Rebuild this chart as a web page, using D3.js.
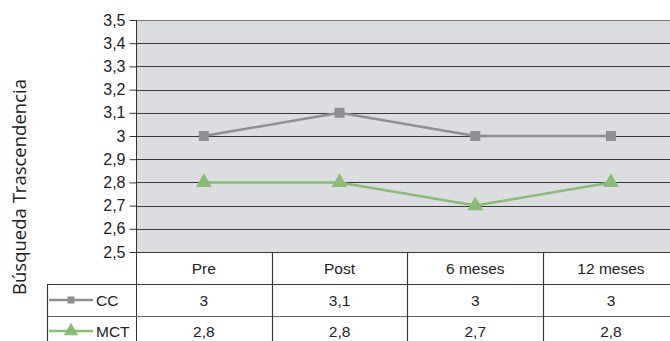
<!DOCTYPE html>
<html><head><meta charset="utf-8">
<script src="https://cdn.jsdelivr.net/npm/d3@7"></script>
<style>body{margin:0;background:#fff}svg{display:block}</style>
</head><body>
<svg id="c" width="670" height="341"></svg>
<script>
const categories = ["Pre", "Post", "6 meses", "12 meses"];
const seriesNames = ["CC", "MCT"];
const ccValues = [3, 3.1, 3, 3];
const mctValues = [2.8, 2.8, 2.7, 2.8];
const yTicks = [2.5, 2.6, 2.7, 2.8, 2.9, 3, 3.1, 3.2, 3.3, 3.4, 3.5];
const yTitle = "Búsqueda Trascendencia";

(function () {
const svg = d3.select("#c");
const pLeft = 136, colW = 135.7, pTop = 20, pBottom = 252;
const pRight = pLeft + colW * categories.length;
const rowTops = [252, 284, 316, 348];
const tableLeft = 47;

const x = d3.scaleBand().domain(categories).range([pLeft, pRight]);
const y = d3.scaleLinear().domain([2.5, 3.5]).range([pBottom, pTop]);
const fmt = v => String(v).replace(".", ",");

svg.append("rect").attr("x", pLeft).attr("y", pTop).attr("width", pRight - pLeft).attr("height", pBottom - pTop).attr("fill", "#dcdde0");

svg.append("g").selectAll("line").data(yTicks).join("line")
  .attr("x1", pLeft).attr("x2", pRight)
  .attr("y1", d => Math.round(y(d)) + 0.5).attr("y2", d => Math.round(y(d)) + 0.5)
  .attr("stroke", d => d === 3.5 ? "#7a7a7a" : "#3a3a3a").attr("stroke-width", 1.2);

const yAxis = d3.axisLeft(y).tickValues(yTicks).tickFormat(fmt).tickSize(7).tickPadding(4);
const ga = svg.append("g").attr("transform", `translate(${pLeft + 0.5},0)`).call(yAxis);
ga.select(".domain").remove();
ga.selectAll(".tick line").attr("stroke", "#333");
ga.selectAll(".tick text").attr("font-family", "Liberation Sans, Arial, sans-serif").attr("font-size", 16).attr("fill", "#222");
svg.append("line").attr("x1", pLeft + 0.5).attr("x2", pLeft + 0.5).attr("y1", pTop).attr("y2", 341).attr("stroke", "#333");

svg.append("text").attr("transform", `translate(26,${187}) rotate(-90)`)
  .attr("text-anchor", "middle").attr("font-family", "Open Sans, sans-serif").attr("font-size", 18.5).attr("fill", "#222")
  .text(yTitle);

const tl = svg.append("g").attr("stroke", "#3a3a3a").attr("stroke-width", 1.2);
tl.append("line").attr("x1", tableLeft).attr("x2", pRight).attr("y1", rowTops[1] + 0.5).attr("y2", rowTops[1] + 0.5);
tl.append("line").attr("x1", tableLeft).attr("x2", pRight).attr("y1", rowTops[2] + 0.5).attr("y2", rowTops[2] + 0.5).attr("stroke", "#666");
tl.append("line").attr("x1", tableLeft + 0.5).attr("x2", tableLeft + 0.5).attr("y1", rowTops[1]).attr("y2", 341);
tl.selectAll(".v").data(categories.slice(1).concat(["end"])).join("line")
  .attr("x1", (d, i) => Math.round(pLeft + colW * (i + 1)) + 0.5)
  .attr("x2", (d, i) => Math.round(pLeft + colW * (i + 1)) + 0.5)
  .attr("y1", pBottom).attr("y2", 341);

const tf = "Liberation Sans, Arial, sans-serif";
const fs = 15.5;
svg.append("g").selectAll("text").data(categories).join("text")
  .attr("x", d => x(d) + x.bandwidth() / 2).attr("y", (rowTops[0] + rowTops[1]) / 2 + 5.5)
  .attr("text-anchor", "middle").attr("font-family", tf).attr("font-size", fs).attr("fill", "#222").text(d => d);

const series = [
  {name: seriesNames[0], values: ccValues, color: "#8f8f92", marker: "square"},
  {name: seriesNames[1], values: mctValues, color: "#88bd76", marker: "triangle"}
];

series.forEach((s, si) => {
  const rowMid = (rowTops[si + 1] + rowTops[si + 2]) / 2;
  const rowY = si === 0 ? rowMid : 331;
  const pts = categories.map((c, i) => [x(c) + x.bandwidth() / 2, y(s.values[i])]);
  svg.append("path").attr("d", d3.line()(pts)).attr("fill", "none").attr("stroke", s.color).attr("stroke-width", 2.5);
  const sym = s.marker === "square" ? d3.symbol(d3.symbolSquare, 100) : d3.symbol(d3.symbolTriangle, 110);
  svg.append("g").selectAll("path").data(pts).join("path")
    .attr("transform", d => `translate(${d[0]},${d[1]})`).attr("d", sym).attr("fill", s.color);
  svg.append("g").selectAll("text").data(s.values).join("text")
    .attr("x", (d, i) => x(categories[i]) + x.bandwidth() / 2).attr("y", rowY + 5.5)
    .attr("text-anchor", "middle").attr("font-family", tf).attr("font-size", fs).attr("fill", "#222").text(fmt);
  svg.append("line").attr("x1", 49).attr("x2", 93).attr("y1", rowY).attr("y2", rowY).attr("stroke", s.color).attr("stroke-width", 2.5);
  const lsym = s.marker === "square" ? d3.symbol(d3.symbolSquare, 50) : d3.symbol(d3.symbolTriangle, 90);
  svg.append("path").attr("transform", `translate(71,${rowY})`).attr("d", lsym).attr("fill", s.color);
  svg.append("text").attr("x", 96).attr("y", rowY + 5.5).attr("font-family", tf).attr("font-size", fs).attr("fill", "#222").text(s.name);
});
})();
</script>
</body></html>
